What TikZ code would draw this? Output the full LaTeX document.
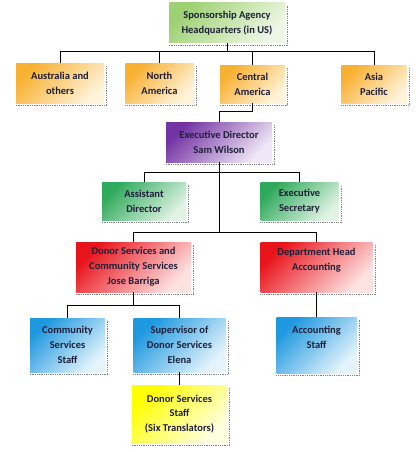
\documentclass[tikz,border=0pt]{standalone}
\usepackage{fontspec}
\setmainfont{Carlito}
\definecolor{txt}{HTML}{1F1F3A}
\definecolor{hqA}{HTML}{9ED173}\definecolor{hqB}{HTML}{EEF7E6}
\definecolor{orA}{HTML}{F8B030}\definecolor{orB}{HTML}{FFF3DA}
\definecolor{puA}{HTML}{7433A4}\definecolor{puB}{HTML}{F0E8F6}
\definecolor{grA}{HTML}{2FA95B}\definecolor{grB}{HTML}{E0F3E5}
\definecolor{reA}{HTML}{E8141C}\definecolor{reB}{HTML}{FDE2E2}
\definecolor{blA}{HTML}{1E98DF}\definecolor{blB}{HTML}{E5F4FC}
\definecolor{yeA}{HTML}{FFFF00}\definecolor{yeB}{HTML}{FFFFE2}
\tikzset{
  box/.style={rectangle, inner sep=0pt, align=center, text=txt,
    font=\bfseries\fontsize{10.5}{14.8}\selectfont, shading angle=45},
  hqbox/.style={box, top color=hqA, bottom color=hqB, shading angle=45},
  orbox/.style={box, top color=orA, bottom color=orB, shading angle=45},
  pubox/.style={box, top color=puA, bottom color=puB, shading angle=45},
  grbox/.style={box, top color=grA, bottom color=grB, shading angle=45},
  rebox/.style={box, top color=reA, bottom color=reB, shading angle=45},
  blbox/.style={box, top color=blA, bottom color=blB, shading angle=45},
  yebox/.style={box, top color=yeA, bottom color=yeB, shading angle=45},
  conn/.style={draw=black, line width=1pt},
  shadowline/.style={draw=gray, densely dotted, line width=0.8pt}
}
\begin{document}
\begin{tikzpicture}[x=1pt,y=-1pt]
\useasboundingbox[fill=white] (0,0) rectangle (415,452);
% nodes
\node[hqbox, minimum width=116pt, minimum height=40pt] (hq) at (227,23) {Sponsorship Agency\\Headquarters (in US)};
\node[orbox, minimum width=88pt, minimum height=40pt] (aus) at (60,83) {Australia and\\others};
\node[orbox, minimum width=68pt, minimum height=40pt] (na) at (159.5,83) {North\\America};
\node[orbox, minimum width=65pt, minimum height=38pt] (ca) at (252.5,84) {Central\\America};
\node[orbox, minimum width=65pt, minimum height=38pt] (ap) at (374,84) {Asia\\Pacific};
\node[pubox, minimum width=106pt, minimum height=40pt] (exec) at (219,142) {Executive Director\\Sam Wilson};
\node[grbox, minimum width=84pt, minimum height=38pt] (asst) at (144,201) {Assistant\\Director};
\node[grbox, minimum width=78pt, minimum height=38pt] (sec) at (299.5,201) {Executive\\Secretary};
\node[rebox, minimum width=115pt, minimum height=50pt] (donor) at (133.5,267) {Donor Services and\\Community Services\\Jose Barriga};
\node[rebox, minimum width=112pt, minimum height=50pt] (dept) at (316.5,267) {Department Head\\Accounting\\\mbox{}};
\node[blbox, minimum width=75pt, minimum height=54pt] (comm) at (67.5,345) {Community\\Services\\Staff};
\node[blbox, minimum width=92pt, minimum height=54pt] (sup) at (179.5,345) {Supervisor of\\Donor Services\\Elena};
\node[blbox, minimum width=80pt, minimum height=56pt] (acct) at (316.5,345) {Accounting\\Staff\\\mbox{}};
\node[yebox, minimum width=95pt, minimum height=58pt] (dss) at (179.5,414) {Donor Services\\Staff\\(Six Translators)};
% shadows
\foreach \n in {hq,aus,na,ca,ap,exec,asst,sec,donor,dept,comm,sup,acct,dss}{
  \draw[shadowline] ([yshift=-2.5pt]\n.south west) -- ([shift={(2.5pt,-2.5pt)}]\n.south east) -- ([shift={(2.5pt,-3pt)}]\n.north east);
}
% junctions
\coordinate (j1) at (228,52);
\coordinate (j2) at (219,172);
\coordinate (j3) at (219,232);
\coordinate (j4) at (133.5,305);
% connectors
\draw[conn] (hq.south) -- (hq.south |- j1);
\draw[conn] (aus.north) -- (aus.north |- j1) -- (ap.north |- j1) -- (ap.north);
\draw[conn] (na.north) -- (na.north |- j1);
\draw[conn] (ca.north) -- (ca.north |- j1);
\draw[conn] (ca.south) -- ++(0,8) -| (exec.north);
\draw[conn] (asst.north) -- (asst.north |- j2) -- (sec.north |- j2) -- (sec.north);
\draw[conn] (exec.south) -- (j3);
\draw[conn] (donor.north) -- (donor.north |- j3) -- (dept.north |- j3) -- (dept.north);
\draw[conn] (donor.south) -- (j4);
\draw[conn] (comm.north) -- (comm.north |- j4) -- (sup.north |- j4) -- (sup.north);
\draw[conn] (dept.south) -- (acct.north);
\draw[conn] (sup.south) -- (dss.north);
\end{tikzpicture}
\end{document}
